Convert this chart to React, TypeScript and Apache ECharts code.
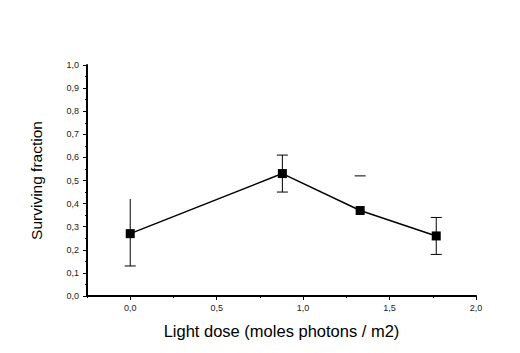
import React, { useEffect, useRef } from "react";
import * as echarts from "echarts";

const doses = [0, 0.88, 1.33, 1.77];
const survival = [0.27, 0.53, 0.37, 0.26];
const errHigh = [0.42, 0.61, 0.52, 0.34];
const errLow: (number | null)[] = [0.13, 0.45, null, 0.18];
const capHigh = [false, true, true, true];

const xMajorTicks = [0, 0.5, 1.0, 1.5, 2.0];
const xMinorTicks = [-0.25, 0.25, 0.75, 1.25, 1.75];

const fmt = (v: number) => v.toFixed(1).replace(".", ",");

export default function App() {
  const ref = useRef<HTMLDivElement>(null);
  useEffect(() => {
    const chart = echarts.init(ref.current!, null, { renderer: "svg" });
    const font = "'Liberation Sans', Arial, sans-serif";
    chart.setOption({
      animation: false,
      backgroundColor: "#ffffff",
      grid: { left: 87, right: 44, top: 65, bottom: 57 },
      xAxis: [
        {
          type: "value",
          position: "bottom",
          min: -0.25,
          max: 2.0,
          name: "Light dose (moles photons / m2)",
          nameLocation: "middle",
          nameGap: 26,
          nameTextStyle: { fontFamily: font, fontSize: 16.5, color: "#000", verticalAlign: "top" },
          axisLine: { show: true, onZero: false, lineStyle: { color: "#000", width: 2 } },
          axisTick: { show: true, inside: false, length: 4, customValues: xMajorTicks, lineStyle: { color: "#000", width: 1 } },
          axisLabel: {
            show: true,
            customValues: xMajorTicks,
            formatter: (v: number) => fmt(v),
            fontFamily: font,
            fontSize: 9,
            color: "#222",
            margin: 7,
          },
          splitLine: { show: false },
        },
        {
          type: "value",
          position: "bottom",
          min: -0.25,
          max: 2.0,
          axisLine: { show: false, onZero: false },
          axisTick: { show: true, inside: false, length: 2, customValues: xMinorTicks, lineStyle: { color: "#000", width: 1 } },
          axisLabel: { show: false },
          splitLine: { show: false },
        },
      ],
      yAxis: {
        type: "value",
        min: 0,
        max: 1.0,
        interval: 0.1,
        name: "Surviving fraction",
        nameLocation: "middle",
        nameGap: 43,
        nameTextStyle: { fontFamily: font, fontSize: 15.5, color: "#000" },
        axisLine: { show: true, onZero: false, lineStyle: { color: "#000", width: 2 } },
        axisTick: { show: true, inside: false, length: 4, lineStyle: { color: "#000", width: 1 } },
        minorTick: { show: true, splitNumber: 2, length: 2, lineStyle: { color: "#000", width: 1 } },
        axisLabel: {
          formatter: (v: number) => fmt(v),
          fontFamily: font,
          fontSize: 9,
          color: "#222",
          margin: 8,
        },
        splitLine: { show: false },
      },
      series: [
        {
          type: "custom",
          xAxisIndex: 0,
          data: doses.map((d, i) => [d, errLow[i], errHigh[i], capHigh[i] ? 1 : 0]),
          renderItem: (params: any, api: any) => {
            const x = api.value(0);
            const lo = api.value(1);
            const hi = api.value(2);
            const ch = api.value(3);
            const children: any[] = [];
            const half = 5.5;
            const style = { stroke: "#000", lineWidth: 1 };
            const pHi = api.coord([x, hi]);
            if (lo !== null && lo !== undefined && !isNaN(lo)) {
              const pLo = api.coord([x, lo]);
              children.push({ type: "line", shape: { x1: pLo[0], y1: pLo[1], x2: pHi[0], y2: pHi[1] }, style });
              children.push({ type: "line", shape: { x1: pLo[0] - half, y1: pLo[1], x2: pLo[0] + half, y2: pLo[1] }, style });
            }
            if (ch) {
              children.push({ type: "line", shape: { x1: pHi[0] - half, y1: pHi[1], x2: pHi[0] + half, y2: pHi[1] }, style });
            }
            return { type: "group", children };
          },
          z: 1,
        },
        {
          type: "line",
          xAxisIndex: 0,
          data: doses.map((d, i) => [d, survival[i]]),
          symbol: "rect",
          symbolSize: 9,
          lineStyle: { color: "#000", width: 1.5 },
          itemStyle: { color: "#000" },
          z: 2,
        },
      ],
    });
    return () => chart.dispose();
  }, []);
  return (
    <div
      ref={ref}
      style={{ position: "absolute", left: 0, top: 0, width: 520, height: 353, background: "#fff" }}
    />
  );
}
